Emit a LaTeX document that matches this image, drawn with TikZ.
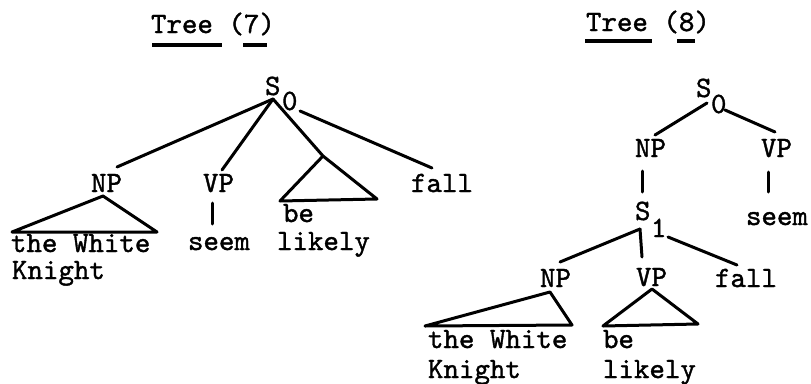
\documentclass[tikz,border=0pt]{standalone}
\usepackage{fontspec}
\newfontfamily\tw{lmmono10-regular.otf}[FakeBold=1.3]
\begin{document}
\begin{tikzpicture}[x=1pt,y=-1pt,
  lbl/.style={inner sep=0pt, outer sep=0pt, anchor=base west, font=\fontsize{29.5}{32}\selectfont\tw},
  edge/.style={line width=3pt, line cap=round, line join=round},
  uline/.style={line width=3.2pt}]
\useasboundingbox (0,0) rectangle (811,383);
% ---------------- Tree (7) ----------------
\node[lbl] (t7) at (151,33) {Tree (7)};
\draw[uline] (152,45) -- (222,45);
\draw[uline] (243,45) -- (267,45);
\node[lbl] (aS) at (265,95) {S};
\node[lbl] (aSs) at (282,110) {0};
\node[lbl] (aNP) at (91,192) {NP};
\node[lbl] (aVP) at (203,192) {VP};
\node[lbl] (afall) at (411,192) {fall};
\node[lbl] (abe) at (283,222) {be};
\node[lbl] (alikely) at (277,250) {likely};
\node[lbl] (aseem) at (188,250) {seem};
\node[lbl] (athe) at (11,252) {the White};
\node[lbl] (aknight) at (12,279) {Knight};
\coordinate (aApex) at (273,99);
\coordinate (aSr) at (300,111);
\coordinate (aNPt) at (117,167);
\coordinate (aVPt) at (222,170);
\coordinate (aTri) at (323,156);
\coordinate (aTriL) at (280,201);
\coordinate (aTriR) at (377,199);
\coordinate (afallt) at (432,168);
\coordinate (aNPb) at (103,196);
\coordinate (aNPL) at (12,232);
\coordinate (aNPR) at (157,232);
\coordinate (aVPb) at (212,203);
\coordinate (aseemt) at (212,224);
\draw[edge] (aApex) -- (aNPt);
\draw[edge] (aApex) -- (aVPt);
\draw[edge] (aApex) -- (aTri);
\draw[edge] (aSr) -- (afallt);
\draw[edge] (aTri) -- (aTriL) -- (aTriR) -- cycle;
\draw[edge] (aNPb) -- (aNPL) -- (aNPR) -- cycle;
\draw[edge] (aVPb) -- (aseemt);
% ---------------- Tree (8) ----------------
\node[lbl] (t8) at (586,31) {Tree (8)};
\draw[uline] (585,41) -- (652,41);
\draw[uline] (677,41) -- (695,41);
\node[lbl] (bS) at (696,97) {S};
\node[lbl] (bSs) at (711,113) {0};
\node[lbl] (bNP) at (635,157) {NP};
\node[lbl] (bVP) at (761,157) {VP};
\node[lbl] (bseem) at (746,225) {seem};
\node[lbl] (cS) at (635,220) {S};
\node[lbl] (cSs) at (651,237) {1};
\node[lbl] (cNP) at (540,287) {NP};
\node[lbl] (cVP) at (636,286) {VP};
\node[lbl] (cfall) at (715,287) {fall};
\node[lbl] (cthe) at (428,348) {the White};
\node[lbl] (cknight) at (428,378) {Knight};
\node[lbl] (cbe) at (603,348) {be};
\node[lbl] (clikely) at (603,378) {likely};
\coordinate (bApexL) at (707,103);
\coordinate (bApexR) at (725,110);
\coordinate (bNPt) at (655,135);
\coordinate (bVPt) at (775,132);
\coordinate (bNPb) at (642,171);
\coordinate (cSt) at (642,192);
\coordinate (bVPb) at (768,172);
\coordinate (bseemt) at (768,192);
\coordinate (cApex) at (640,229);
\coordinate (cSr) at (668,237);
\coordinate (cNPt) at (560,262);
\coordinate (cVPt) at (642,257);
\coordinate (cfallt) at (737,265);
\coordinate (cNPb) at (550,292);
\coordinate (cNPL) at (425,326);
\coordinate (cNPR) at (572,325);
\coordinate (cVPb) at (652,289);
\coordinate (cVPL) at (603,326);
\coordinate (cVPR) at (698,324);
\draw[edge] (bApexL) -- (bNPt);
\draw[edge] (bApexR) -- (bVPt);
\draw[edge] (bNPb) -- (cSt);
\draw[edge] (bVPb) -- (bseemt);
\draw[edge] (cApex) -- (cNPt);
\draw[edge] (cApex) -- (cVPt);
\draw[edge] (cSr) -- (cfallt);
\draw[edge] (cNPb) -- (cNPL) -- (cNPR) -- cycle;
\draw[edge] (cVPb) -- (cVPL) -- (cVPR) -- cycle;
\end{tikzpicture}
\end{document}
